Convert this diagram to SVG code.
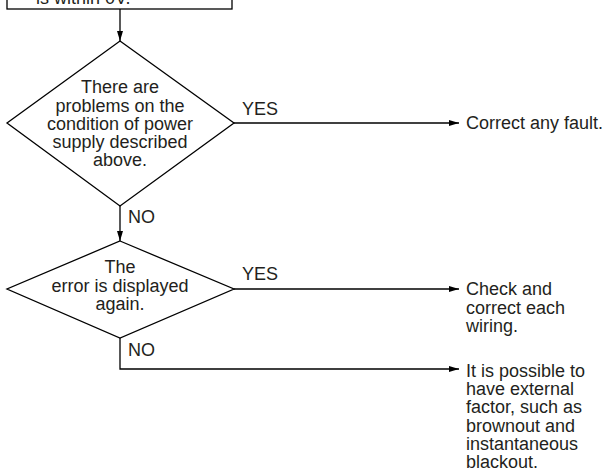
<svg xmlns="http://www.w3.org/2000/svg" width="609" height="469" viewBox="0 0 609 469">
  <style>
    .shape { fill: #ffffff; stroke: #000000; stroke-width: 1.3; }
    .edge { fill: none; stroke: #000000; stroke-width: 1.3; }
    .t { font-family: "Liberation Sans", Arial, sans-serif; font-size: 18px; fill: #231f20; }
    .c { text-anchor: middle; }
  </style>
  <defs>
    <marker id="arrow" viewBox="0 0 10 6" refX="10" refY="3" markerWidth="10" markerHeight="6" markerUnits="userSpaceOnUse" orient="auto">
      <path d="M0,0 L10,3 L0,6 Z" fill="#000000"/>
    </marker>
  </defs>

  <rect width="609" height="469" fill="#ffffff"/>

  <!-- connectors -->
  <g id="connectors">
    <line class="edge" x1="120" y1="9" x2="120" y2="41" marker-end="url(#arrow)"/>
    <line class="edge" x1="234" y1="123" x2="459" y2="123" marker-end="url(#arrow)"/>
    <line class="edge" x1="120" y1="206" x2="120" y2="241" marker-end="url(#arrow)"/>
    <line class="edge" x1="234" y1="289" x2="459" y2="289" marker-end="url(#arrow)"/>
    <polyline class="edge" points="120,338 120,369 459,369" marker-end="url(#arrow)"/>
    <text class="t" x="242" y="115">YES</text>
    <text class="t" x="128" y="223">NO</text>
    <text class="t" x="242" y="280">YES</text>
    <text class="t" x="128" y="356">NO</text>
  </g>

  <!-- previous step box (cut at top edge) -->
  <g id="check-voltage">
    <rect class="shape" x="7" y="-40" width="225" height="49"/>
    <text class="t" x="36" y="4">is within 0V.</text>
  </g>

  <!-- decision 1 -->
  <g id="power-problem">
    <polygon class="shape" points="120,41 234,123 120,206 7,123"/>
    <text class="t c" x="120" y="93">There are</text>
    <text class="t c" x="120" y="111.5">problems on the</text>
    <text class="t c" x="120" y="130">condition of power</text>
    <text class="t c" x="120" y="148">supply described</text>
    <text class="t c" x="120" y="166">above.</text>
  </g>

  <!-- decision 2 -->
  <g id="error-again">
    <polygon class="shape" points="120,241 234,289 120,338 7,289"/>
    <text class="t c" x="120" y="273">The</text>
    <text class="t c" x="120" y="292">error is displayed</text>
    <text class="t c" x="120" y="310">again.</text>
  </g>

  <!-- outcomes -->
  <g id="correct-fault">
    <text class="t" x="466" y="129">Correct any fault.</text>
  </g>

  <g id="check-wiring">
    <text class="t" x="466" y="295">Check and</text>
    <text class="t" x="466" y="313.5">correct each</text>
    <text class="t" x="466" y="332">wiring.</text>
  </g>

  <g id="external-factor">
    <text class="t" x="466" y="377">It is possible to</text>
    <text class="t" x="466" y="395.2">have external</text>
    <text class="t" x="466" y="413.4">factor, such as</text>
    <text class="t" x="466" y="431.6">brownout and</text>
    <text class="t" x="466" y="449.8">instantaneous</text>
    <text class="t" x="466" y="468">blackout.</text>
  </g>
</svg>
